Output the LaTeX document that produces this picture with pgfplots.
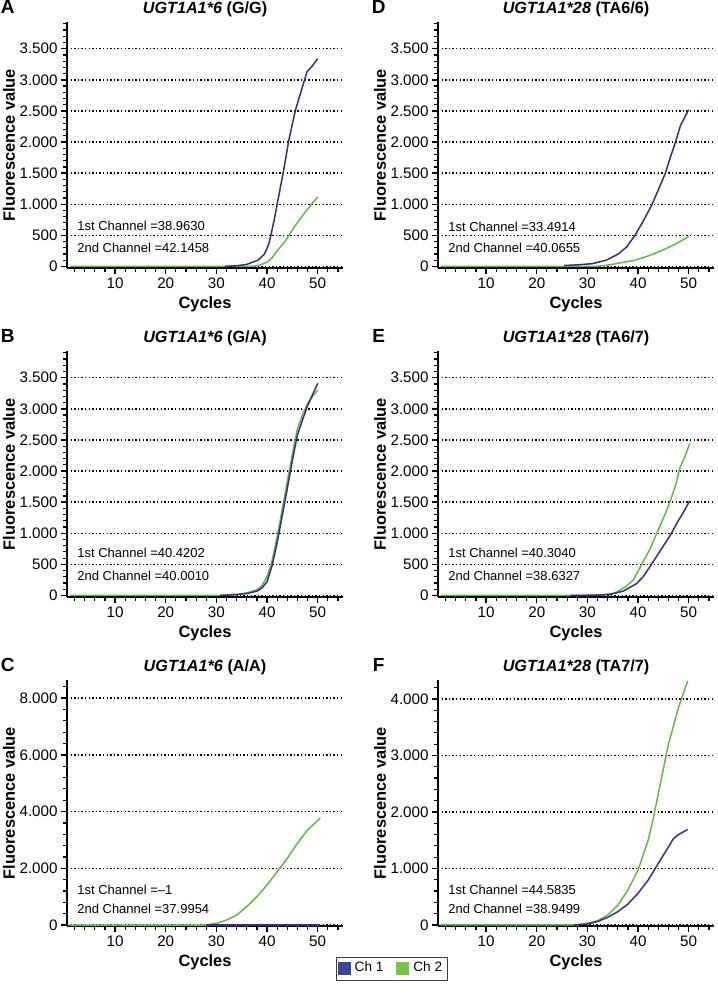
\documentclass[border=0pt]{standalone}
\usepackage{pgfplots}
\pgfplotsset{compat=1.18}
\usepackage{fontspec}
\setmainfont{Liberation Sans}

\definecolor{chone}{RGB}{58,44,128}
\definecolor{chtwo}{RGB}{98,184,72}
\definecolor{chonel}{RGB}{62,70,146}
\definecolor{chtwol}{RGB}{120,196,72}

\tikzset{
  note/.style={anchor=west, font=\fontsize{6.5}{7}\selectfont, inner sep=0pt},
  letter/.style={anchor=base, font=\fontsize{9.5}{10}\selectfont\bfseries},
}

\pgfplotsset{
  panel/.style={
    scale only axis, width=138pt, height=123pt,
    xmin=0.5, xmax=55,
    axis x line*=bottom, axis y line*=left,
    axis line style={-, line width=0.85pt},
    xtick={10,20,...,50},
    minor xtick={2,4,...,54},
    tick align=outside,
    major tick length=3pt, minor tick length=1.8pt,
    tick style={black, line width=0.7pt},
    minor tick style={black, line width=0.6pt},
    ymajorgrids,
    major grid style={black, line width=0.7pt, dash pattern=on 0.7pt off 1.1pt},
    scaled y ticks=false,
    /pgf/number format/assume math mode=true,
    /pgf/number format/1000 sep={.},
    tick label style={font=\fontsize{7.6}{8}\selectfont},
    yticklabel style={inner sep=1.5pt},
    xticklabel style={inner sep=1.5pt},
    xlabel={Cycles}, ylabel={Fluorescence value},
    every axis y label/.style={at={(axis description cs:-0.21,0.5)}, rotate=90, anchor=center,
      font=\fontsize{8.2}{9}\selectfont\bfseries},
    every axis x label/.style={at={(axis description cs:0.5,-0.146)}, anchor=center,
      font=\fontsize{8.2}{9}\selectfont\bfseries},
    every axis title/.style={at={(axis description cs:0.5,1.033)}, anchor=base,
      font=\fontsize{8.1}{9}\selectfont\bfseries},
    clip=false,
  },
  low/.style={ymin=-25, ymax=3930, ytick={0,500,...,3500}, minor ytick={100,200,...,3900}},
  c1/.style={color=chone, line width=0.75pt, no markers},
  c2/.style={color=chtwo, line width=0.75pt, no markers},
}

\begin{document}
\begin{tikzpicture}
\useasboundingbox (0,0) rectangle (358.5pt,500pt);

% A
\begin{axis}[panel, low, at={(33.5pt,366pt)}, anchor=south west,
  title={\textit{UGT1A1*6} (G/G)}]
\addplot[c2] coordinates {(1,0) (36,0) (37.5,5) (38.5,20) (40.1,70) (41,140) (41.8,230) (43.7,420) (45.6,660) (47.6,880) (50,1120)};
\addplot[c1] coordinates {(31.7,0) (34,12) (35.9,30) (38.2,100) (39.5,200) (40.4,370) (41.4,740) (42.4,1170) (43.4,1600) (44.3,2030) (45.6,2510) (46.6,2780) (47.9,3130) (48.9,3220) (50,3340)};
\node[note] at (rel axis cs:0.036,0.171) {1st Channel =38.9630};
\node[note] at (rel axis cs:0.036,0.081) {2nd Channel =42.1458};
\node[letter] at (rel axis cs:-0.215,1.033) {A};
\end{axis}

% B
\begin{axis}[panel, low, at={(33.5pt,201.5pt)}, anchor=south west,
  title={\textit{UGT1A1*6} (G/A)}]
\addplot[c2] coordinates {(1,0) (30,0) (34,15) (36,40) (38,90) (39,160) (40,300) (41,560) (42,940) (43,1380) (44,1830) (45,2270) (46,2680) (47,2900) (48,3080) (49,3200) (50,3300)};
\addplot[c1] coordinates {(30.7,0) (34,15) (36,30) (38,70) (39,120) (40,220) (41,480) (42,850) (43,1280) (44,1720) (45,2170) (46,2580) (47,2820) (48,3050) (49,3230) (50,3410)};
\node[note] at (rel axis cs:0.036,0.179) {1st Channel =40.4202};
\node[note] at (rel axis cs:0.036,0.085) {2nd Channel =40.0010};
\node[letter] at (rel axis cs:-0.215,1.033) {B};
\end{axis}

% C
\begin{axis}[panel, at={(33.5pt,37pt)}, anchor=south west,
  ymin=-35, ymax=8640, ytick={0,2000,...,8000}, minor ytick={400,800,...,8400},
  title={\textit{UGT1A1*6} (A/A)}]
\addplot[c2] coordinates {(1,0) (28,0) (30,60) (32,175) (34,350) (36,650) (38,1000) (40,1410) (42,1880) (44,2350) (46,2880) (48,3350) (48.8,3480) (50.5,3770)};
\addplot[c1] coordinates {(28,0) (50.5,0)};
\node[note] at (rel axis cs:0.036,0.146) {1st Channel =--1};
\node[note] at (rel axis cs:0.036,0.069) {2nd Channel =37.9954};
\node[letter] at (rel axis cs:-0.215,1.033) {C};
\end{axis}

% D
\begin{axis}[panel, low, at={(219pt,366pt)}, anchor=south west,
  title={\textit{UGT1A1*28} (TA6/6)}]
\addplot[c2] coordinates {(1,0) (31.5,0) (33.5,15) (35.4,40) (37,65) (39.1,95) (41,140) (42.7,190) (44.5,250) (46.4,320) (48.3,400) (50,480)};
\addplot[c1] coordinates {(25.4,15) (28,25) (31,45) (33.7,100) (36.1,200) (37.7,310) (39.4,500) (41.1,740) (42.7,985) (44.1,1250) (45.4,1500) (46.4,1760) (47.4,2000) (48.4,2270) (50,2520)};
\node[note] at (rel axis cs:0.036,0.167) {1st Channel =33.4914};
\node[note] at (rel axis cs:0.036,0.081) {2nd Channel =40.0655};
\node[letter] at (rel axis cs:-0.215,1.033) {D};
\end{axis}

% E
\begin{axis}[panel, low, at={(219pt,201.5pt)}, anchor=south west,
  title={\textit{UGT1A1*28} (TA6/7)}]
\addplot[c2] coordinates {(1,0) (31,0) (33.1,10) (35.4,40) (37.4,130) (39.1,250) (40.7,500) (42.4,750) (43.7,1000) (45.1,1260) (46.3,1500) (47.4,1770) (48.3,2060) (49.2,2220) (50.2,2440)};
\addplot[c1] coordinates {(26.7,0) (32,5) (34.4,15) (37.1,70) (39.7,190) (41,300) (42.4,470) (44.4,720) (46.4,970) (47.7,1170) (48.7,1300) (50.2,1520)};
\node[note] at (rel axis cs:0.036,0.179) {1st Channel =40.3040};
\node[note] at (rel axis cs:0.036,0.085) {2nd Channel =38.6327};
\node[letter] at (rel axis cs:-0.215,1.033) {E};
\end{axis}

% F
\begin{axis}[panel, at={(219pt,37pt)}, anchor=south west,
  ymin=-18, ymax=4335, ytick={0,1000,...,4000}, minor ytick={200,400,...,4200},
  title={\textit{UGT1A1*28} (TA7/7)},
  legend columns=2,
  legend image code/.code={\fill[#1] (0pt,-3.2pt) rectangle (6.5pt,3.2pt);},
  legend style={at={(-0.167,-0.173)}, anchor=center, draw=black!75, line width=0.4pt,
    font=\fontsize{6.8}{7}\selectfont, inner sep=0.6pt, row sep=0pt,
    /tikz/every even column/.append style={column sep=4.5pt}}]
\addplot[c2, forget plot] coordinates {(1,0) (28,0) (30,30) (32,75) (34,175) (36,350) (38,620) (40,970) (42,1500) (43,1880) (44,2320) (46,3200) (48,3850) (49.8,4320)};
\addplot[c1, forget plot] coordinates {(27.4,0) (30,18) (32,60) (34,135) (36,235) (38,370) (40,560) (42,795) (44,1090) (46,1380) (47,1530) (48,1600) (49.8,1690)};
\addlegendimage{fill=chonel, draw=none}
\addlegendentry{Ch 1}
\addlegendimage{fill=chtwol, draw=none}
\addlegendentry{Ch 2}
\node[note] at (rel axis cs:0.036,0.146) {1st Channel =44.5835};
\node[note] at (rel axis cs:0.036,0.069) {2nd Channel =38.9499};
\node[letter] at (rel axis cs:-0.215,1.033) {F};
\end{axis}
\end{tikzpicture}
\end{document}
